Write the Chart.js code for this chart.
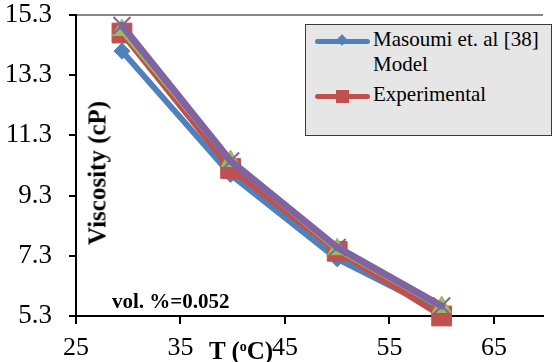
<!DOCTYPE html>
<html>

<head>
  <title>Viscosity vs T</title>
  <style>
    body { margin: 0; background: #ffffff; }
    #wrap { position: relative; width: 558px; height: 362px; font-family: 'Liberation Serif', 'Times New Roman', serif; }
    #myChart { position: absolute; left: 0; top: 0; }
    .txt { position: absolute; white-space: nowrap; color: #000000; }
    #legend {
      position: absolute; left: 305px; top: 24px; width: 245px; height: 110px;
      background: #e6e6e6; border: 1.5px solid #3a3a3a;
    }
    .swatch { position: absolute; left: 9px; width: 55px; height: 5px; border-radius: 3px; }
    .mark { position: absolute; }
  </style>
  <script src="https://cdn.jsdelivr.net/npm/chart.js"></script>
</head>

<body>
  <div id="wrap">
    <canvas id="myChart" width="558" height="362"></canvas>

    <div class="txt" style="left:97px; top:173px; font-size:25px; font-weight:bold; line-height:25px; transform: translate(-50%,-50%) rotate(-90deg);">Viscosity (cP)</div>
    <div class="txt" style="left:209px; top:334px; font-size:25px; font-weight:bold; line-height:25px;">T (<sup style="font-size:14px; vertical-align: 8px;">o</sup>C)</div>
    <div class="txt" style="left:112px; top:291px; font-size:21px; font-weight:bold; line-height:21px;">vol. %=0.052</div>

    <div id="legend">
      <div class="swatch" style="top:14px; background:#4F81BD;"></div>
      <div class="mark" style="left:32px; top:11px; width:8px; height:8px; background:#4F81BD; transform: rotate(45deg);"></div>
      <div class="txt" style="left:67px; top:2px; font-size:21px; line-height:25px;">Masoumi et. al [38]<br>Model</div>
      <div class="swatch" style="top:69px; background:#C0504D;"></div>
      <div class="mark" style="left:30px; top:65px; width:13px; height:13px; background:#C0504D;"></div>
      <div class="txt" style="left:67px; top:57px; font-size:21px; line-height:25px;">Experimental</div>
    </div>
  </div>

  <script>
    // temperatures (oC)
    var temps = [29.4, 39.8, 50, 60];
    // viscosity (cP)
    var masoumiModel = [14.1, 10.0, 7.2, 5.45];
    var experimental = [14.7, 10.2, 7.45, 5.3];
    var series3 = [14.8, 10.45, 7.52, 5.6];
    var series4 = [14.95, 10.45, 7.58, 5.63];

    var xTicks = [25, 35, 45, 55, 65];
    var yTicks = [5.3, 7.3, 9.3, 11.3, 13.3, 15.3];

    function pts(vals) {
      return temps.map(function (t, i) { return { x: t, y: vals[i] }; });
    }

    var serif = "'Liberation Serif', 'Times New Roman', Times, serif";
    Chart.defaults.font.family = serif;

    var ctx = document.getElementById("myChart").getContext("2d");
    var myChart = new Chart(ctx, {
      type: "line",
      data: {
        datasets: [
          {
            label: "Masoumi et. al [38] Model", data: pts(masoumiModel), order: 4,
            borderColor: "#4F81BD", backgroundColor: "#4F81BD", borderWidth: 6,
            pointStyle: "rectRot", pointRadius: 8, pointBorderWidth: 1, pointBorderColor: "#4F81BD"
          },
          {
            label: "Experimental", data: pts(experimental), order: 3,
            borderColor: "#C0504D", backgroundColor: "#C0504D", borderWidth: 6,
            pointStyle: "rect", pointRadius: 14, pointBorderWidth: 1, pointBorderColor: "#C0504D"
          },
          {
            label: "Series3", data: pts(series3), order: 2,
            borderColor: "#9BBB59", backgroundColor: "#9BBB59", borderWidth: 6,
            pointStyle: "triangle", pointRadius: 11, pointBorderWidth: 1, pointBorderColor: "#9BBB59"
          },
          {
            label: "Series4", data: pts(series4), order: 1,
            borderColor: "#8064A2", backgroundColor: "#8064A2", borderWidth: 7,
            pointStyle: "crossRot", pointRadius: 12, pointBorderWidth: 2, pointBorderColor: "#8064A2"
          }
        ]
      },
      options: {
        responsive: false,
        animation: false,
        clip: false,
        layout: { padding: { top: 14, right: 0, left: 0, bottom: 0 } },
        elements: { line: { tension: 0, borderJoinStyle: "round", borderCapStyle: "round" } },
        plugins: { legend: { display: false }, tooltip: { enabled: false } },
        scales: {
          x: {
            type: "linear", min: 25, max: 69.7,
            afterBuildTicks: function (s) { s.ticks = xTicks.map(function (v) { return { value: v }; }); },
            afterFit: function (s) { s.height = 46; s.paddingLeft = 0; s.paddingRight = 0; },
            border: { color: "#000000", width: 2 },
            grid: { drawOnChartArea: false, color: "#000000", tickColor: "#000000", tickLength: 8, lineWidth: 2 },
            ticks: { font: { family: serif, size: 26 }, color: "#000000", padding: 9, maxRotation: 0 }
          },
          y: {
            type: "linear", min: 5.3, max: 15.3,
            afterBuildTicks: function (s) { s.ticks = yTicks.map(function (v) { return { value: v }; }); },
            afterFit: function (s) { s.width = 76; s.paddingTop = 0; s.paddingBottom = 0; },
            border: { color: "#000000", width: 2 },
            grid: {
              color: function (c) { return (c.tick && c.tick.value > 15.2) ? "#868686" : "rgba(0,0,0,0)"; },
              tickColor: "#000000", tickLength: 7, lineWidth: 2
            },
            ticks: {
              font: { family: serif, size: 27 }, color: "#000000", padding: 17,
              callback: function (v) { return v.toFixed(1); }
            }
          }
        }
      }
    });
  </script>

</body>

</html>
